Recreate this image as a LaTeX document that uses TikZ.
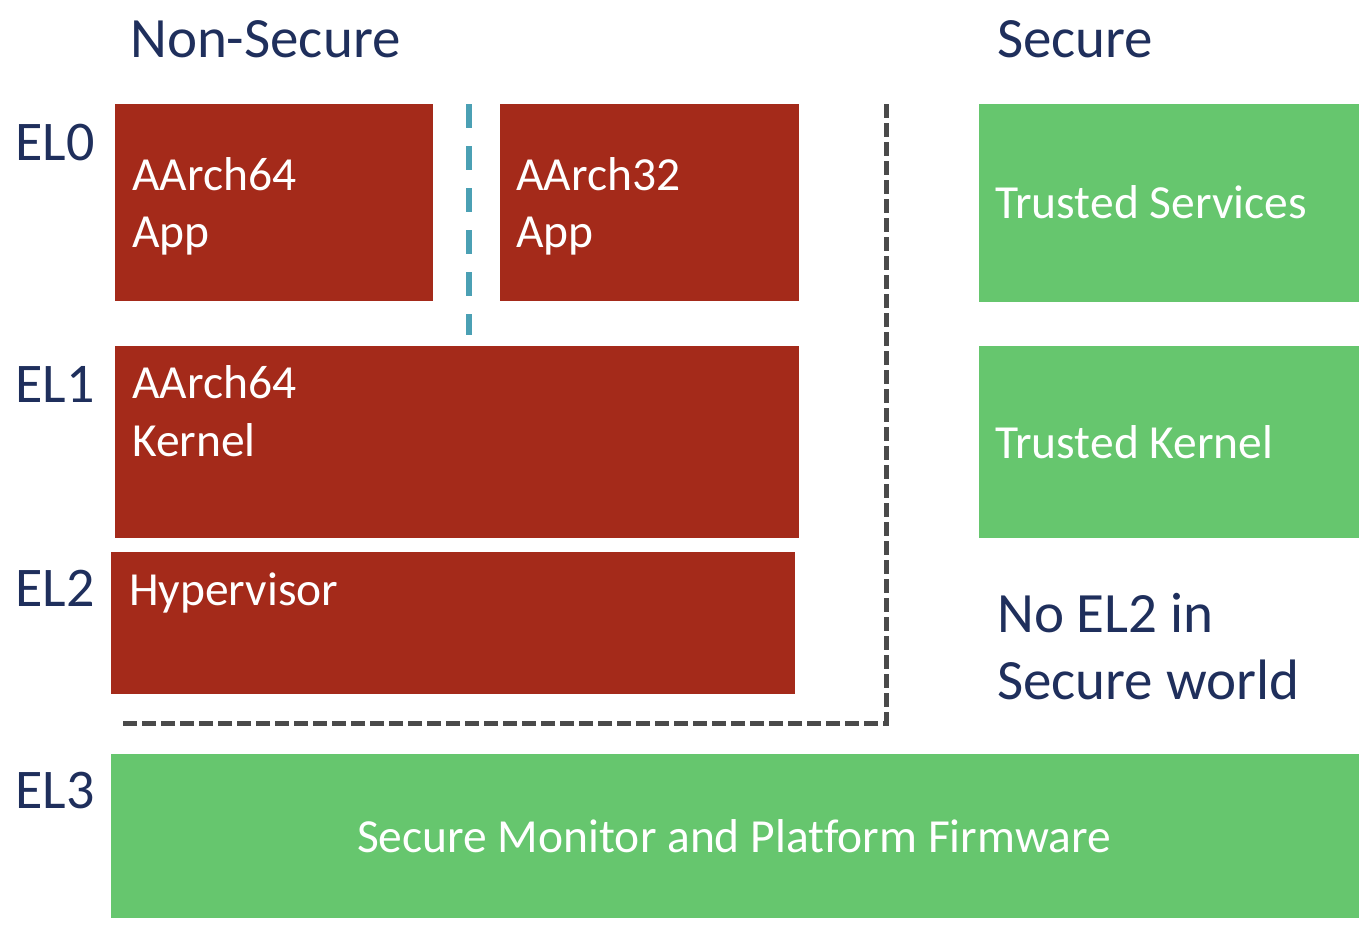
\documentclass[tikz,border=0pt]{standalone}
\usepackage{fontspec}
\setmainfont{Carlito}[Ligatures={NoCommon}]
\definecolor{navy}{HTML}{1F2F5C}
\definecolor{armred}{HTML}{A42A1A}
\definecolor{armgreen}{HTML}{66C66E}
\definecolor{dashblue}{HTML}{4BA0B4}
\definecolor{dashgray}{HTML}{4A4A4A}
\tikzset{
  redbox/.style={fill=armred, draw=none, anchor=north west, inner sep=0pt},
  greenbox/.style={fill=armgreen, draw=none, anchor=north west, inner sep=0pt},
  boxtext/.style={text=white, anchor=base west, inner sep=0pt, font=\fontsize{47.5}{57}\selectfont},
  headtext/.style={text=navy, anchor=base west, inner sep=0pt, font=\fontsize{57}{68}\selectfont},
  eltext/.style={text=navy, anchor=base west, inner sep=0pt, font=\fontsize{56}{66}\selectfont},
  bluedash/.style={draw=dashblue, line width=6pt, dash pattern=on 24pt off 18pt},
  graydash/.style={draw=dashgray, line width=5pt, dash pattern=on 14pt off 5pt}
}
\begin{document}
\begin{tikzpicture}[x=1pt,y=-1pt]
\useasboundingbox[fill=white] (0,0) rectangle (1369,927);
% headers
\node[headtext] (hns) at (130,57) {Non-Secure};
\node[headtext] (hs) at (997,57) {Secure};
% EL labels
\node[eltext] (el0) at (15,160) {EL0};
\node[eltext] (el1) at (15,402) {EL1};
\node[eltext] (el2) at (15,606) {EL2};
\node[eltext] (el3) at (15,808) {EL3};
% boxes
\node[redbox, minimum width=318pt, minimum height=197pt] (a64app) at (115,104) {};
\node[redbox, minimum width=299pt, minimum height=197pt] (a32app) at (500,104) {};
\node[redbox, minimum width=684pt, minimum height=192pt] (kern) at (115,346) {};
\node[redbox, minimum width=684pt, minimum height=142pt] (hyp) at (111,552) {};
\node[greenbox, minimum width=380pt, minimum height=198pt] (tsvc) at (979,104) {};
\node[greenbox, minimum width=380pt, minimum height=192pt] (tkern) at (979,346) {};
\node[greenbox, minimum width=1248pt, minimum height=164pt] (smon) at (111,754) {};
% box texts
\node[boxtext] (t1a) at (132,190) {AArch64};
\node[boxtext] (t1b) at (132,247) {App};
\node[boxtext] (t2a) at (516,190) {AArch32};
\node[boxtext] (t2b) at (516,247) {App};
\node[boxtext] (t3a) at (132,398) {AArch64};
\node[boxtext] (t3b) at (132,456) {Kernel};
\node[boxtext] (t4) at (129,605) {Hypervisor};
\node[boxtext] (t5) at (995,218) {Trusted Services};
\node[boxtext] (t6) at (995,458) {Trusted Kernel};
\node[boxtext, anchor=base] (t7) at (734,852) {Secure Monitor and Platform Firmware};
% secure note
\node[headtext] (n1) at (997,632) {No EL2 in};
\node[headtext] (n2) at (997,699) {Secure world};
% dividers
\coordinate (bt) at (469,104);
\coordinate (bb) at (469,335);
\draw[bluedash] (bt) -- (bb);
\coordinate (gt) at (886,104);
\coordinate (gc) at (886,723);
\coordinate (gl) at (121,723);
\draw[graydash] (gt) -- (gc) -- (gl);
\end{tikzpicture}
\end{document}
